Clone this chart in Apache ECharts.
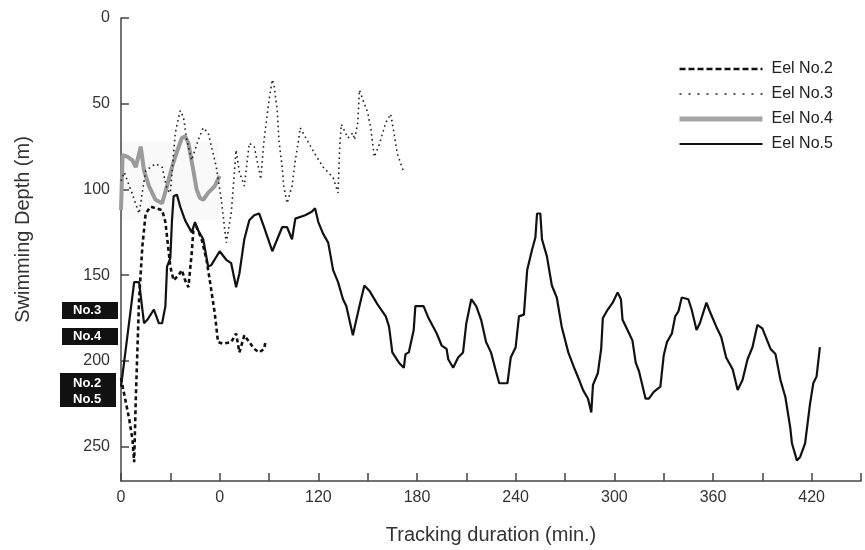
<!DOCTYPE html>
<html>
<head>
<meta charset="utf-8">
<script src="https://cdn.jsdelivr.net/npm/echarts@6/dist/echarts.min.js"></script>
<style>
  html, body { margin: 0; padding: 0; background: #fff; }
  #main { width: 865px; height: 550px; }
</style>
</head>
<body>
<div id="main"></div>
<script>
// 各个个体的游泳深度 (时间 min, 深度 m)
var eel2Time = [0, 5, 7, 8, 9, 11, 13, 15, 18, 25, 27, 30, 32, 35, 37, 39, 41, 43, 44, 46, 49, 52, 54, 57, 59, 62, 67, 70, 72, 75, 78, 81, 84, 87, 88];
var eel2Depth = [210, 234, 246, 259, 222, 164, 133, 114, 110, 112, 119, 145, 153, 150, 147, 153, 157, 137, 124, 122, 129, 141, 153, 172, 189, 190, 189, 184, 195, 185, 189, 193, 195, 193, 188];

var eel3Time = [0, 2, 7, 11, 15, 21, 25, 28, 30, 33, 36, 38, 40, 43, 47, 50, 53, 56, 58, 61, 64, 67, 70, 72, 75, 78, 81, 84, 85, 87, 90, 92, 93, 95, 96, 98, 99, 101, 104, 106, 108, 109, 113, 119, 123, 126, 129, 132, 133, 134, 136, 138, 141, 142, 144, 145, 148, 150, 152, 154, 157, 161, 164, 166, 168, 172];
var eel3Depth = [95, 90, 103, 114, 89, 85, 87, 100, 102, 67, 54, 58, 71, 83, 71, 64, 67, 79, 87, 106, 131, 114, 77, 90, 98, 73, 75, 89, 94, 71, 48, 36, 39, 54, 71, 87, 98, 108, 98, 83, 71, 64, 71, 81, 87, 90, 93, 102, 75, 62, 66, 70, 67, 71, 61, 42, 50, 55, 65, 81, 74, 61, 56, 67, 79, 90];

var eel4Time = [0, 1, 4, 7, 9, 12, 14, 17, 21, 25, 28, 31, 34, 37, 39, 41, 44, 46, 48, 50, 53, 57, 60];
var eel4Depth = [112, 80, 81, 83, 87, 75, 89, 98, 106, 108, 98, 87, 78, 70, 69, 73, 89, 100, 105, 106, 102, 98, 92];

var eel5Time = [0, 2, 8, 11, 14, 16, 20, 23, 25, 27, 28, 30, 31, 32, 34, 36, 39, 43, 45, 47, 50, 53, 55, 60, 64, 67, 70, 72, 75, 78, 81, 84, 87, 92, 93, 98, 101, 104,
    106, 112, 116, 118, 120, 123, 126, 129, 132, 135, 137, 141, 145, 148, 151, 156, 161, 163, 165, 169, 172, 173, 175, 178, 179, 184, 187, 192, 195, 198, 199,
    202, 205, 208, 210, 213, 216, 219, 222, 225, 228, 230, 235, 237, 240, 242, 245, 247, 250, 252, 253, 255, 256, 259, 262, 265, 268, 272, 276, 279, 281, 284,
    286, 287, 290, 292, 293, 296, 299, 302, 304, 305, 308, 311, 313, 315, 319, 321, 324, 328, 330, 332, 335, 337, 339, 341, 345, 347, 350, 352, 356, 358, 362,
    365, 368, 372, 375, 378, 381, 384, 387, 390, 395, 398, 401, 404, 407, 408, 411, 413, 416, 419, 421, 423, 425];
var eel5Depth = [215, 200, 154, 154, 178, 176, 170, 178, 178, 168, 145, 140, 118, 104, 103, 110, 118, 125, 119, 124, 129, 145, 144, 136, 141, 143, 157, 149, 129, 118, 115, 114, 122, 136, 135, 122, 122, 129,
    117, 115, 113, 111, 119, 126, 131, 147, 154, 164, 168, 185, 168, 156, 159, 167, 174, 180, 195, 201, 204, 196, 195, 182, 168, 168, 175, 184, 191, 193, 199,
    204, 198, 195, 178, 164, 168, 176, 189, 195, 206, 213, 213, 198, 192, 174, 173, 147, 135, 128, 114, 114, 129, 139, 156, 163, 180, 195, 205, 212, 217, 222,
    230, 214, 207, 193, 175, 170, 166, 160, 164, 176, 182, 188, 201, 206, 222, 222, 218, 215, 197, 189, 184, 174, 171, 163, 164, 170, 182, 178, 166, 171, 180,
    186, 198, 205, 217, 211, 199, 192, 179, 181, 193, 196, 211, 221, 239, 248, 258, 256, 248, 225, 213, 209, 192];

// 坐标轴刻度文字 (原图 60 处只剩 "0")
var xTickValues = [0, 30, 60, 90, 120, 150, 180, 210, 240, 270, 300, 330, 360, 390, 420, 450];
var xTickLabels = ['0', '', '0', '', '120', '', '180', '', '240', '', '300', '', '360', '', '420', ''];
var yTickValues = [0, 50, 100, 150, 200, 250];

// 左侧黑色标签
var tagLabels = ['No.3', 'No.4', 'No.2\nNo.5'];

function pairs(t, d) {
    var out = [];
    for (var i = 0; i < t.length; i++) out.push([t[i], d[i]]);
    return out;
}

var font = 'Liberation Sans, Arial, sans-serif';
var myChart = echarts.init(document.getElementById('main'));

var option = {
    backgroundColor: '#fff',
    animation: false,
    grid: { left: 121, right: 4, top: 18, bottom: 68 },
    legend: {
        orient: 'vertical',
        left: 672,
        top: 56,
        itemWidth: 83,
        itemHeight: 14,
        itemGap: 9,
        itemStyle: { opacity: 0, color: 'transparent', borderColor: 'transparent', borderWidth: 0 },
        textStyle: { fontFamily: font, fontSize: 16, color: '#222', padding: [0, 0, 0, 4] },
        data: [
            { name: 'Eel No.2', lineStyle: { width: 2.4, type: [6, 3] } },
            { name: 'Eel No.3', lineStyle: { width: 1.4, type: [2, 7] } },
            { name: 'Eel No.4', lineStyle: { width: 5, color: '#a5a5a5' } },
            { name: 'Eel No.5', lineStyle: { width: 2 } }
        ]
    },
    xAxis: {
        type: 'value',
        min: 0,
        max: 450,
        interval: 30,
        position: 'bottom',
        name: 'Tracking duration (min.)',
        nameLocation: 'middle',
        nameGap: 44,
        nameTextStyle: { fontFamily: font, fontSize: 20, color: '#333' },
        axisLine: { onZero: false, lineStyle: { color: '#444', width: 1.5 } },
        axisTick: { inside: true, length: 8, lineStyle: { color: '#444', width: 1.5 } },
        splitLine: { show: false },
        axisLabel: {
            fontFamily: font, fontSize: 16, color: '#333', margin: 9,
            formatter: function (v) {
                var i = xTickValues.indexOf(v);
                return i >= 0 ? xTickLabels[i] : '';
            }
        }
    },
    yAxis: {
        type: 'value',
        inverse: true,
        min: 0,
        max: 270,
        interval: 50,
        name: 'Swimming Depth (m)',
        nameLocation: 'middle',
        nameGap: 88,
        nameTextStyle: { fontFamily: font, fontSize: 20, color: '#333', padding: [0, 0, 0, 40] },
        axisLine: { onZero: false, lineStyle: { color: '#444', width: 1.5 } },
        axisTick: { inside: true, length: 8, lineStyle: { color: '#444', width: 1.5 } },
        splitLine: { show: false },
        axisLabel: {
            fontFamily: font, fontSize: 16, color: '#333', margin: 11, showMaxLabel: false,
            formatter: function (v) {
                return yTickValues.indexOf(v) >= 0 ? String(v) : '';
            }
        }
    },
    series: [
        {
            name: 'Eel No.4',
            type: 'line',
            symbol: 'none',
            z: 1,
            lineStyle: { color: '#9b9b9b', width: 4 },
            itemStyle: { color: '#9b9b9b' },
            markArea: {
                silent: true,
                itemStyle: { color: 'rgba(0,0,0,0.025)' },
                data: [[{ coord: [0, 72] }, { coord: [60, 118] }]]
            },
            data: pairs(eel4Time, eel4Depth)
        },
        {
            name: 'Eel No.3',
            type: 'line',
            symbol: 'none',
            z: 2,
            lineStyle: { color: '#222', width: 1.6, type: [1.6, 3.4] },
            itemStyle: { color: '#222' },
            data: pairs(eel3Time, eel3Depth)
        },
        {
            name: 'Eel No.2',
            type: 'line',
            symbol: 'none',
            z: 3,
            lineStyle: { color: '#111', width: 2.6, type: [4, 3] },
            itemStyle: { color: '#111' },
            data: pairs(eel2Time, eel2Depth)
        },
        {
            name: 'Eel No.5',
            type: 'line',
            symbol: 'none',
            z: 4,
            lineStyle: { color: '#111', width: 2.2 },
            itemStyle: { color: '#111' },
            data: pairs(eel5Time, eel5Depth)
        }
    ],
    graphic: [
        {
            type: 'rect', left: 62, top: 302, shape: { width: 56, height: 17 },
            style: { fill: '#111' }
        },
        {
            type: 'text', left: 73, top: 304,
            style: { text: tagLabels[0], fill: '#fff', font: 'bold 13px ' + font }
        },
        {
            type: 'rect', left: 62, top: 328, shape: { width: 56, height: 17 },
            style: { fill: '#111' }
        },
        {
            type: 'text', left: 73, top: 330,
            style: { text: tagLabels[1], fill: '#fff', font: 'bold 13px ' + font }
        },
        {
            type: 'rect', left: 60, top: 373, shape: { width: 56, height: 34 },
            style: { fill: '#111' }
        },
        {
            type: 'text', left: 73, top: 375,
            style: { text: tagLabels[2], fill: '#fff', font: 'bold 13px ' + font, lineHeight: 16 }
        }
    ]
};

myChart.setOption(option);
</script>
</body>
</html>
